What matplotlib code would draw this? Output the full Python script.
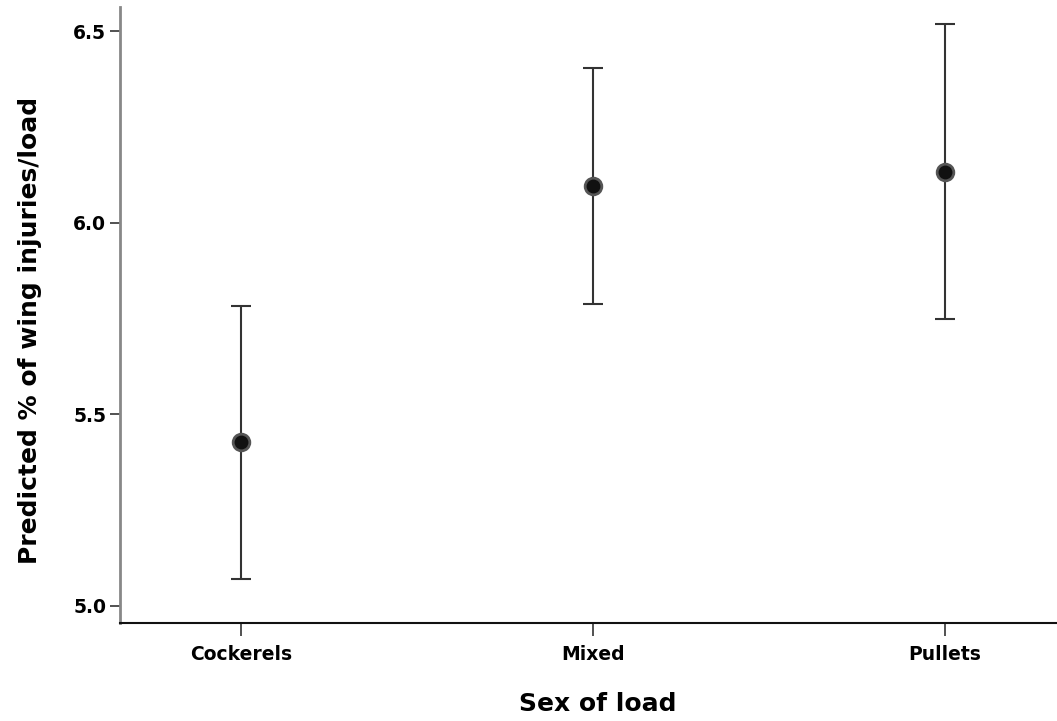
import matplotlib
matplotlib.use("Agg")
import matplotlib.pyplot as plt
import numpy as np

plt.rcParams['font.family'] = ['DejaVu Sans']

# data
groups = ['Cockerels', 'Mixed', 'Pullets']
predicted = [5.428, 6.096, 6.132]
upper_ci = [5.783, 6.404, 6.518]
lower_ci = [5.070, 5.788, 5.749]

x = np.arange(len(groups))
pred = np.array(predicted)
err = [pred - np.array(lower_ci), np.array(upper_ci) - pred]

fig = plt.figure(figsize=(10.57, 7.21), dpi=100)
ax = fig.add_axes([0.1135, 0.136, 0.8865, 0.854])

ax.errorbar(x, pred, yerr=err, fmt='none', ecolor='#333333', elinewidth=1.5,
            capsize=7, capthick=1.5, zorder=2)
ax.plot(x, pred, 'o', ms=12, mfc='#111111', mec='#555555', mew=2, zorder=3)

ax.set_xlim(-0.344, 2.318)
ax.set_ylim(4.9556, 6.5626)
ax.set_xticks(x)
ax.set_xticklabels(groups, fontweight='bold', fontsize=13.5)
ax.set_yticks([5.0, 5.5, 6.0, 6.5])
ax.set_yticklabels(['5.0', '5.5', '6.0', '6.5'], fontweight='bold', fontsize=13.5)

ax.spines['top'].set_visible(False)
ax.spines['right'].set_visible(False)
ax.spines['left'].set_color('#888888')
ax.spines['left'].set_linewidth(2)
ax.spines['bottom'].set_color('#111111')
ax.spines['bottom'].set_linewidth(1.5)
ax.tick_params(axis='y', length=7, width=1.2, color='#333333', pad=3)
ax.tick_params(axis='x', length=9, width=1.2, color='#333333', pad=7)

ax.set_xlabel('Sex of load', fontweight='bold', fontsize=18)
ax.set_ylabel('Predicted % of wing injuries/load', fontweight='bold', fontsize=18)
ax.xaxis.set_label_coords(0.51, -0.112)
ax.yaxis.set_label_coords(-0.083, 0.475)

fig.savefig('out.png', dpi=100)
